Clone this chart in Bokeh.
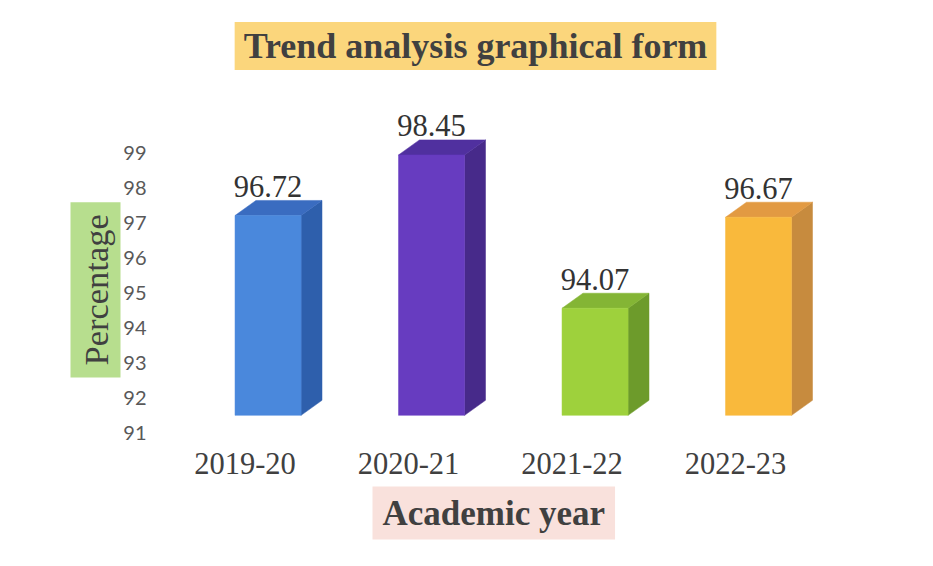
from bokeh.plotting import figure
from bokeh.models import Range1d, FixedTicker, Label, Title, ColumnDataSource
from bokeh.embed import file_html
from bokeh.resources import INLINE
from bokeh.core.properties import value

# ---- data ----
years = ["2019-20", "2020-21", "2021-22", "2022-23"]
percent = [96.72, 98.45, 94.07, 96.67]
y_ticks = [91, 92, 93, 94, 95, 96, 97, 98, 99]
front_colors = ["#4a88dc", "#673cc0", "#9ed13c", "#f9b93c"]
side_colors = ["#2e5fac", "#472a8a", "#6d9b2b", "#c78b3e"]
top_colors = ["#3a6cc0", "#50309f", "#84b535", "#e29a42"]
title_text = "Trend analysis graphical form"
x_title = "Academic year"
y_title = "Percentage"

# ---- pseudo-3D styling constants ----
BAR_SHIFT = 0.141   # front face centre offset from category tick (perspective)
HALF_W = 0.202
DX = 0.128
DY = 0.43
BASE = 91.49
LIFT = 0.48

# pixel helpers for decorations (canvas px -> data)
def px_x(ix):
    return (ix - 244.5) / 163.5

def px_y(iy):
    return 99 - (iy - 152) / 35.0

FL, FR, FT, FB = 155, 905, 8, 448
W, H = 917, 560

p = figure(width=W, height=H, output_backend="svg", toolbar_location=None,
           x_range=Range1d(px_x(FL), px_x(FR)), y_range=Range1d(px_y(FB), px_y(FT)),
           min_border_left=FL, min_border_right=W - FR, min_border_top=FT,
           min_border_bottom=H - FB)
p.outline_line_color = None
p.grid.visible = False
p.background_fill_color = "white"
p.border_fill_color = "white"

# axes
p.yaxis.ticker = FixedTicker(ticks=y_ticks)
p.yaxis.axis_line_color = None
p.yaxis.major_tick_line_color = None
p.yaxis.minor_tick_line_color = None
p.yaxis.major_tick_out = 0
p.yaxis.major_label_standoff = 9
p.yaxis.axis_label_standoff = 0
p.yaxis.major_label_text_font = "Lato"
p.yaxis.major_label_text_font_size = "20px"
p.yaxis.major_label_text_color = "#595959"

p.xaxis.ticker = FixedTicker(ticks=list(range(len(years))))
p.xaxis.major_label_overrides = {i: y for i, y in enumerate(years)}
p.xaxis.axis_line_color = None
p.xaxis.major_tick_line_color = None
p.xaxis.minor_tick_line_color = None
p.xaxis.major_tick_out = 0
p.xaxis.major_label_standoff = 4
p.xaxis.major_label_text_font = "Liberation Serif"
p.xaxis.major_label_text_font_size = "30.5px"
p.xaxis.major_label_text_color = "#404040"

# bars
fx, fy, sx, sy, tx, ty = [], [], [], [], [], []
for i, v in enumerate(percent):
    xc = i + BAR_SHIFT
    xl, xr = xc - HALF_W, xc + HALF_W
    top = v + LIFT
    fx.append([xl, xr, xr, xl]); fy.append([BASE, BASE, top, top])
    sx.append([xr, xr + DX, xr + DX, xr]); sy.append([BASE, BASE + DY, top + DY, top])
    tx.append([xl, xr, xr + DX, xl + DX]); ty.append([top, top, top + DY, top + DY])

p.patches(xs=sx, ys=sy, fill_color=side_colors, line_color=side_colors, line_width=0.5)
p.patches(xs=tx, ys=ty, fill_color=top_colors, line_color=top_colors, line_width=0.5)
p.patches(xs=fx, ys=fy, fill_color=front_colors, line_color=front_colors, line_width=0.5)

lab_src = ColumnDataSource(dict(
    x=[i + BAR_SHIFT for i in range(len(percent))],
    y=[v + LIFT + DY for v in percent],
    t=[f"{v:.2f}" for v in percent]))
p.text(x="x", y="y", text="t", source=lab_src, text_align="center",
       text_baseline="alphabetic", y_offset=-14, text_font=value("Liberation Serif"),
       text_font_size="30.5px", text_color="#333333")

# chart title (inside frame)
p.add_layout(Label(x=px_x(475), y=px_y(45.5), text=title_text, text_align="center",
                   text_baseline="middle", text_font="Liberation Serif", text_font_style="bold",
                   text_font_size="36px", text_color="#404040",
                   background_fill_color="#fbd67c", padding=(9, 4)))

# axis titles with coloured boxes
p.add_layout(Title(text=y_title, align="left", offset=71, vertical_align="bottom", standoff=0,
                   text_font="Liberation Serif", text_font_size="34.5px",
                   text_font_style="normal", text_color="#404040",
                   background_fill_color="#b7de8e", padding=(12, 6)), "left")
p.add_layout(Title(text=x_title, align="left", offset=217, vertical_align="top", standoff=20,
                   text_font="Liberation Serif", text_font_size="35px",
                   text_font_style="bold", text_color="#404040",
                   background_fill_color="#f9e1dc", padding=(10, 7)), "below")

open("out.html", "w").write(file_html(p, INLINE))
